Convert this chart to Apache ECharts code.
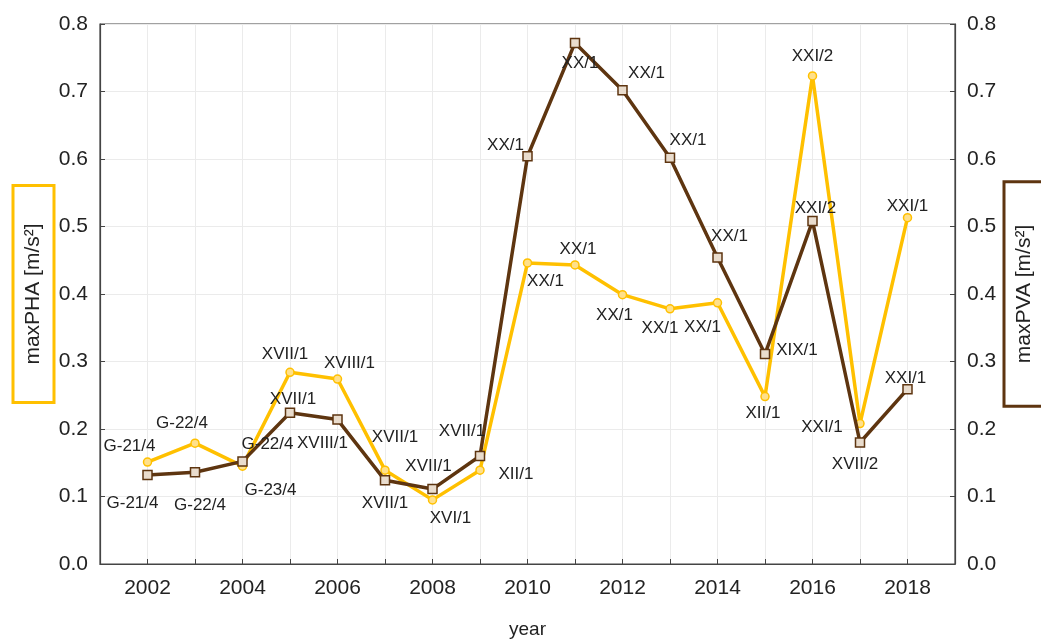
<!DOCTYPE html>
<html>
<head>
<meta charset="utf-8" />
<title>maxPHA / maxPVA</title>
<script src="https://cdn.jsdelivr.net/npm/echarts@6/dist/echarts.min.js"></script>
<style>
  html, body { margin: 0; padding: 0; background: #fff; }
  #main { width: 1041px; height: 640px; }
</style>
</head>
<body>
<div id="main"></div>
<script>
// data
var years = [2002, 2003, 2004, 2005, 2006, 2007, 2008, 2009, 2010, 2011, 2012, 2013, 2014, 2015, 2016, 2017, 2018];
var maxPHA = [0.151, 0.179, 0.145, 0.284, 0.274, 0.139, 0.095, 0.139, 0.446, 0.443, 0.399, 0.378, 0.387, 0.248, 0.723, 0.208, 0.513];
var maxPVA = [0.132, 0.136, 0.152, 0.224, 0.214, 0.124, 0.111, 0.160, 0.604, 0.772, 0.702, 0.602, 0.454, 0.311, 0.508, 0.180, 0.259];
var phaLabels = ['G-21/4', 'G-22/4', 'G-23/4', 'XVII/1', 'XVIII/1', 'XVII/1', 'XVI/1', 'XII/1', 'XX/1', 'XX/1', 'XX/1', 'XX/1', 'XX/1', 'XII/1', 'XXI/2', 'XXI/1', 'XXI/1'];
var pvaLabels = ['G-21/4', 'G-22/4', 'G-22/4', 'XVII/1', 'XVIII/1', 'XVII/1', 'XVII/1', 'XVII/1', 'XX/1', 'XX/1', 'XX/1', 'XX/1', 'XX/1', 'XIX/1', 'XXI/2', 'XVII/2', 'XXI/1'];

// label offsets (px) from each point
var phaOffsets = [[-18, -16], [-13, -20], [28, 24], [-5, -18], [12, -16], [10, -33], [18, 18], [36, 4], [18, 18], [3, -16], [-8, 21], [-10, 19], [-15, 25], [-2, 17], [0, -20], [-38, 4], [0, -11]];
var pvaOffsets = [[-15, 28], [5, 33], [25, -17], [3, -13], [-15, 24], [0, 23], [-4, -23], [-18, -25], [-22, -11], [5, 20], [24, -17], [18, -17], [12, -21], [32, -4], [3, -13], [-5, 22], [-2, -11]];

var YELLOW = '#FFC000';
var BROWN = '#5E3510';
var FONT = 'Liberation Sans, Arial, sans-serif';

function buildData(values, labels, offsets) {
  return values.map(function (v, i) {
    return {
      value: [years[i], v],
      label: { formatter: labels[i], offset: offsets[i] }
    };
  });
}

var chart = echarts.init(document.getElementById('main'));

var yAxisCommon = {
  type: 'value',
  min: 0,
  max: 0.8,
  interval: 0.1,
  nameLocation: 'middle',
  nameRotate: 90,
  nameMoveOverlap: false,
  axisLine: { show: true, lineStyle: { color: '#444', width: 1.2 } },
  axisTick: { show: true, inside: true, length: 5, lineStyle: { color: '#444' } },
  axisLabel: { color: '#222', fontSize: 21, fontFamily: FONT, margin: 12, formatter: function (v) { return v.toFixed(1); } }
};

chart.setOption({
  animation: false,
  grid: {
    left: 100, right: 86, top: 24, bottom: 76,
    outerBoundsMode: 'none', containLabel: false,
    show: true, borderColor: '#444', borderWidth: 1.2
  },
  xAxis: {
    type: 'value',
    min: 2001,
    max: 2019,
    interval: 1,
    name: 'year',
    nameLocation: 'middle',
    nameGap: 56,
    nameMoveOverlap: false,
    nameTextStyle: { color: '#222', fontSize: 19, fontFamily: FONT },
    axisLine: { lineStyle: { color: '#444', width: 1.2 } },
    axisTick: { inside: true, length: 5, lineStyle: { color: '#444' } },
    axisLabel: {
      color: '#222', fontSize: 21, fontFamily: FONT, margin: 14,
      formatter: function (v) { return v % 2 === 0 ? String(v) : ''; }
    },
    splitLine: { show: true, lineStyle: { color: '#ebebeb' } }
  },
  yAxis: [
    Object.assign({}, yAxisCommon, {
      position: 'left',
      name: 'maxPHA [m/s²]',
      nameGap: 46,
      nameTextStyle: {
        color: '#222', fontSize: 21, fontFamily: FONT,
        borderColor: YELLOW, borderWidth: 3, padding: [10, 38, 10, 38]
      },
      splitLine: { show: true, lineStyle: { color: '#ebebeb' } }
    }),
    Object.assign({}, yAxisCommon, {
      position: 'right',
      name: 'maxPVA [m/s²]',
      nameGap: 49,
      nameTextStyle: {
        color: '#222', fontSize: 21, fontFamily: FONT,
        borderColor: BROWN, borderWidth: 3, padding: [10, 43, 10, 43]
      },
      splitLine: { show: false }
    })
  ],
  series: [
    {
      name: 'maxPHA',
      type: 'line',
      yAxisIndex: 0,
      data: buildData(maxPHA, phaLabels, phaOffsets),
      symbol: 'circle',
      symbolSize: 8,
      lineStyle: { color: YELLOW, width: 3.5 },
      itemStyle: { color: '#FFE08A', borderColor: YELLOW, borderWidth: 1.5 },
      label: { show: true, position: 'inside', color: '#222', fontSize: 17, fontFamily: FONT },
      z: 2
    },
    {
      name: 'maxPVA',
      type: 'line',
      yAxisIndex: 0,
      data: buildData(maxPVA, pvaLabels, pvaOffsets),
      symbol: 'rect',
      symbolSize: 9,
      lineStyle: { color: BROWN, width: 3.5 },
      itemStyle: { color: '#E9DCCD', borderColor: BROWN, borderWidth: 1.5 },
      label: { show: true, position: 'inside', color: '#222', fontSize: 17, fontFamily: FONT },
      z: 3
    }
  ]
});

window.onresize = function () {
  chart.resize();
};
</script>
</body>
</html>
